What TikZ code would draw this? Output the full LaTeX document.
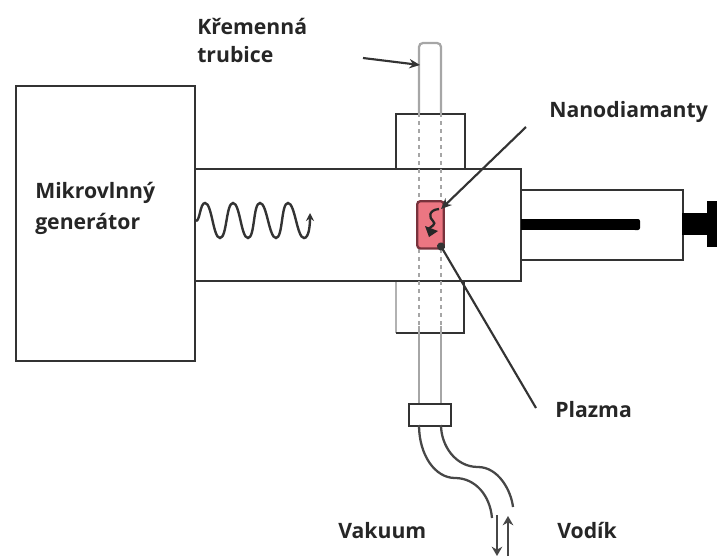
\documentclass[tikz,border=0pt]{standalone}
\usepackage{fontspec}
\setmainfont{Open Sans}
\usetikzlibrary{arrows.meta}
\definecolor{ink}{gray}{0.2}
\definecolor{tubegrey}{gray}{0.65}
\definecolor{plasmafill}{RGB}{236,118,130}
\definecolor{plasmaedge}{RGB}{120,50,60}
\tikzset{
  x=0.75pt,y=-0.75pt,
  box/.style={draw=ink,line width=1.8pt,fill=white},
  lbl/.style={font=\fontsize{15.9pt}{18pt}\selectfont\bfseries,text=black!85,anchor=base west,inner sep=0pt},
  tube/.style={draw=tubegrey,line width=1.7pt},
  tubedash/.style={draw=tubegrey,line width=1.6pt,dash pattern=on 3pt off 3pt},
  hose/.style={draw=ink!90,line width=1.7pt},
  leader/.style={draw=ink,line width=1.6pt},
  tipped/.style={leader,-{Stealth[length=8pt,width=7pt]}}
}
\begin{document}
\begin{tikzpicture}
\useasboundingbox (0,0) rectangle (717,557);
% blocks around the tube
\node[box,minimum width=51.75pt,minimum height=41.25pt,inner sep=0pt,anchor=north west] (upper) at (395,113) {};
\draw[draw=gray!60,line width=1.1pt] (396,280) -- (396,333);
\draw[ink,line width=1.6pt] (396,333) -- (464,333) -- (464,280);
% main boxes
\node[box,minimum width=134.25pt,minimum height=206.25pt,inner sep=0pt,anchor=north west] (gen) at (15,85) {};
\node[box,minimum width=244.5pt,minimum height=84pt,inner sep=0pt,anchor=north west] (guide) at (194,168) {};
\node[box,minimum width=121.5pt,minimum height=52.5pt,inner sep=0pt,anchor=north west] (side) at (520,189) {};
% rod and knob
\fill[black] (521,219) rectangle (637,230);
\fill[black,rounded corners=1.5pt] (633,219) rectangle (640,230);
\fill[black] (682,213) rectangle (708,235);
\fill[black] (707,201) rectangle (717,247);
% tube
\draw[tube,rounded corners=3pt] (419,113) -- (419,43) -- (441,43) -- (441,113);
\draw[tubedash] (419,113) -- (419,326);
\draw[tubedash] (441,113) -- (441,326);
\draw[tube] (419,326) -- (419,403);
\draw[tube] (441,326) -- (441,403);
% plasma
\node[draw=plasmaedge,fill=plasmafill,line width=1.7pt,rounded corners=2.5pt,minimum width=20pt,minimum height=35.5pt,inner sep=0pt,anchor=north west] (plasma) at (416,200) {};
\draw[black!85,line width=1.7pt] (439,209) .. controls (428,210) and (429,218) .. (433,221) .. controls (437,224) and (431,227) .. (428,229);
\fill[black!85] (425,226) -- (438,231) -- (429,237) -- cycle;
% clamp and hoses
\node[box,minimum width=31.5pt,minimum height=16.5pt,inner sep=0pt,anchor=north west] (clamp) at (408,403) {};
\coordinate (hl) at (419,425);
\coordinate (hle) at (492,518);
\coordinate (hr) at (441,425);
\coordinate (hre) at (513,507);
\draw[hose] (hl) .. controls (419,455) and (435,478) .. (455,478) .. controls (475,478) and (490,495) .. (hle);
\draw[hose] (hr) .. controls (441,445) and (455,467) .. (478,467) .. controls (498,467) and (511,490) .. (hre);
% flow arrows
\coordinate (vacA) at (497,515);
\coordinate (vacB) at (497,556);
\coordinate (hydA) at (508,556);
\coordinate (hydB) at (508,516);
\draw[hose,line width=2pt,-{Stealth[length=7pt,width=8pt]}] (vacA) -- (vacB);
\draw[hose,line width=2pt,-{Stealth[length=7pt,width=8pt]}] (hydA) -- (hydB);
% wave
\coordinate (waveStart) at (196,221);
\coordinate (waveEnd) at (310,213);
\draw[ink,line width=1.8pt,-{Stealth[length=6pt,width=6pt]}] (waveStart) .. controls (200,221) and (200,203) .. (205,203)
  .. controls (212,203) and (213,238) .. (220,238)
  .. controls (227,238) and (226,203) .. (233,203)
  .. controls (240,203) and (241,238) .. (248,238)
  .. controls (255,238) and (253,203) .. (260,203)
  .. controls (267,203) and (269,238) .. (276,238)
  .. controls (283,238) and (281,203) .. (288,203)
  .. controls (295,203) and (297,238) .. (304,238)
  .. controls (309,238) and (310,225) .. (waveEnd);
% labels
\node[lbl] (tk) at (197,34) {Křemenná};
\node[lbl] (tt) at (197,62) {trubice};
\node[lbl] (mk) at (35,198) {Mikrovlnný};
\node[lbl] (mg) at (35,229) {generátor};
\node[lbl] (nd) at (549,117) {Nanodiamanty};
\node[lbl] (pl) at (555,417) {Plazma};
\node[lbl] (va) at (338,538) {Vakuum};
\node[lbl] (vo) at (557,538) {Vodík};
% leaders
\coordinate (tubeArrowStart) at (363,58);
\coordinate (tubeArrowEnd) at (420,65);
\draw[tipped] (tubeArrowStart) -- (tubeArrowEnd);
\coordinate (ndStart) at (526,127);
\coordinate (ndEnd) at (441,209);
\draw[tipped] (ndStart) -- (ndEnd);
\coordinate (plStart) at (536,408);
\coordinate (plEnd) at (439,243);
\draw[leader,{Circle[length=6pt]}-] (plEnd) -- (plStart);
\end{tikzpicture}
\end{document}
